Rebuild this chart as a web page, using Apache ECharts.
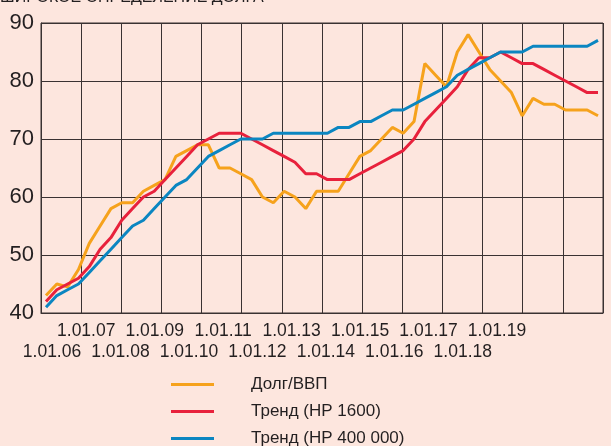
<!DOCTYPE html>
<html><head><meta charset="utf-8">
<script src="https://cdn.jsdelivr.net/npm/echarts@6/dist/echarts.min.js"></script>
<style>html,body{margin:0;padding:0;background:#fde6de;} #c{width:611px;height:446px;}</style>
</head><body><div id="c"></div>
<script>
const titleText = 'ШИРОКОЕ ОПРЕДЕЛЕНИЕ ДОЛГА';
const tickLabels = ['1.01.06','1.01.07','1.01.08','1.01.09','1.01.10','1.01.11','1.01.12','1.01.13','1.01.14','1.01.15','1.01.16','1.01.17','1.01.18','1.01.19'];
const seriesNames = ['Долг/ВВП', 'Тренд (HP 1600)', 'Тренд (HP 400 000)'];
const debtGdp = [43,45,44.5,47.5,52,55,58,59,59,61,62,63,67,68,69,69,65,65,64,63,60,59,61,60,58,61,61,61,64,67,68,70,72,71,73,83,81,79,85,88,85,82,80,78,74,77,76,76,75,75,75,74];
const trendHP1600 = [42,44,45,46,48,51,53,56,58,60,61,63,65,67,69,70,71,71,71,70,69,68,67,66,64,64,63,63,63,64,65,66,67,68,70,73,75,77,79,82,84,84,85,84,83,83,82,81,80,79,78,78];
const trendHP400k = [41,43,44,45,47,49,51,53,55,56,58,60,62,63,65,67,68,69,70,70,70,71,71,71,71,71,71,72,72,73,73,74,75,75,76,77,78,79,81,82,83,84,85,85,85,86,86,86,86,86,86,87];
const colors = ['#f6a21c', '#e8213c', '#0b86c1'];

const FONT = "'Liberation Sans', Arial, sans-serif";
const TXT = '#231f20';
const GRID_C = '#3a3232';

const toPairs = arr => arr.map((v, i) => [i, v]);
const n = debtGdp.length;
const pad = 5 / 10.824;

const chart = echarts.init(document.getElementById('c'), null, {renderer: 'canvas'});
chart.setOption({
  backgroundColor: '#fde6de',
  animation: false,
  title: {
    text: titleText, left: 0, top: -10, padding: 0,
    textStyle: {fontFamily: FONT, fontSize: 16, fontWeight: 'normal', color: TXT}
  },
  legend: {
    orient: 'vertical', left: 171, top: 376, height: 80, padding: 0,
    itemWidth: 43, itemHeight: 3, itemGap: 10, icon: 'rect',
    data: seriesNames,
    textStyle: {fontFamily: FONT, fontSize: 17, color: TXT, padding: [0, 0, 0, 32]}
  },
  grid: [
    {left: 41, top: 23, width: 562, height: 290, show: true, borderColor: GRID_C, borderWidth: 1, backgroundColor: 'transparent'},
    {left: 52, top: 23, width: 445, height: 290}
  ],
  xAxis: [
    {gridIndex: 0, type: 'value', min: 0, max: 14, interval: 1, position: 'bottom',
     axisLine: {show: true, lineStyle: {color: GRID_C, width: 1}}, axisTick: {show: false}, axisLabel: {show: false},
     splitLine: {show: true, lineStyle: {color: GRID_C, width: 1}}},
    {gridIndex: 0, type: 'value', min: -pad, max: (n - 1) + pad, show: false, position: 'bottom', splitLine: {show: false}},
    {gridIndex: 1, type: 'category', data: tickLabels, boundaryGap: false, position: 'bottom',
     axisLine: {show: false}, axisTick: {show: false}, splitLine: {show: false},
     axisLabel: {interval: (i) => i % 2 === 1, margin: 9, fontFamily: FONT, fontSize: 17.5, color: TXT}},
    {gridIndex: 1, type: 'category', data: tickLabels, boundaryGap: false, position: 'bottom',
     axisLine: {show: false}, axisTick: {show: false}, splitLine: {show: false},
     axisLabel: {interval: (i) => i % 2 === 0, margin: 30.5, fontFamily: FONT, fontSize: 17.5, color: TXT}}
  ],
  yAxis: [
    {gridIndex: 0, type: 'value', min: 40, max: 90, interval: 10,
     axisLine: {show: true, lineStyle: {color: GRID_C, width: 1}}, axisTick: {show: false},
     axisLabel: {margin: 7, fontFamily: FONT, fontSize: 22, color: TXT},
     splitLine: {show: true, lineStyle: {color: GRID_C, width: 1}}},
    {gridIndex: 1, type: 'value', min: 40, max: 90, show: false, splitLine: {show: false}}
  ],
  series: [debtGdp, trendHP1600, trendHP400k].map((arr, k) => ({
    name: seriesNames[k], type: 'line', xAxisIndex: 1, yAxisIndex: 0,
    data: toPairs(arr), symbol: 'none', color: colors[k],
    lineStyle: {width: 3, color: colors[k]}, itemStyle: {color: colors[k]}
  }))
});
</script></body></html>
